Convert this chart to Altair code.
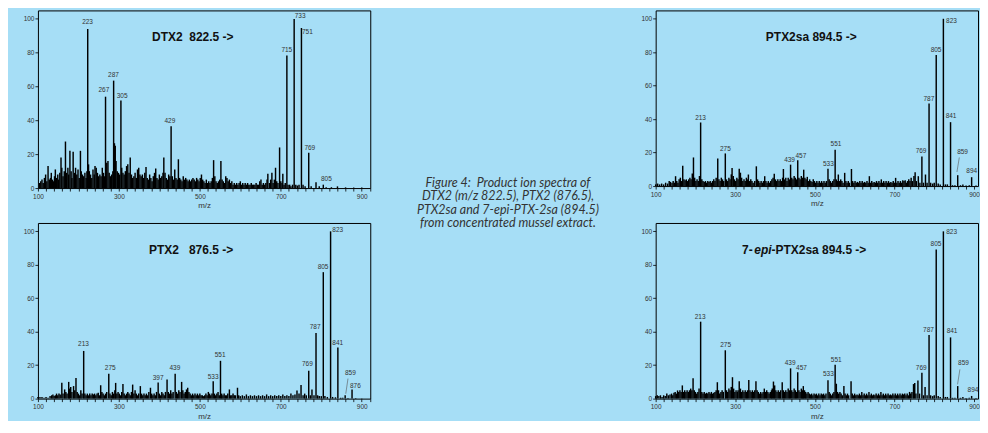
import altair as alt
import pandas as pd

BG = "#a6def6"
FONT = "Liberation Sans"
TXT = "#333333"

# ---------------- data (m/z, relative intensity %) ----------------
DTX2_PEAKS = [
    (104, 3), (107, 4), (110, 5), (113, 3), (116, 6), (119, 8), (122, 4), (125, 13), (128, 5), (131, 6),
    (133, 9), (136, 5), (139, 4), (141, 7), (143, 11), (146, 6), (149, 8), (151, 5), (154, 9), (157, 18),
    (159, 12), (162, 7), (165, 10), (168, 27.5), (171, 9), (174, 12), (176, 8), (179, 22), (182, 10), (184, 6),
    (187, 21.5), (190, 9), (193, 12), (196, 8), (199, 11), (202, 6), (205, 22), (207, 10), (210, 8), (213, 7),
    (216, 9), (219, 6), (221, 10), (223, 94), (225, 14), (227, 10), (230, 8), (233, 6), (236, 11), (239, 8),
    (241, 13), (244, 12), (247, 9), (250, 7), (253, 8), (256, 7), (259, 12), (262, 9), (265, 7), (267, 54),
    (270, 15), (273, 16), (276, 9), (279, 7), (282, 8), (285, 10), (287, 63.5), (289, 26.5), (291, 25), (293, 16),
    (296, 10), (299, 9), (302, 8), (305, 51.8), (307, 12), (310, 9), (313, 8), (316, 10), (319, 13), (322, 14),
    (325, 9), (328, 18), (331, 8), (334, 6), (337, 7), (340, 9), (343, 6), (346, 11), (349, 12), (352, 8),
    (355, 7), (358, 8), (361, 6), (364, 9), (367, 12.5), (370, 6), (373, 5), (376, 8), (379, 6), (382, 4),
    (385, 7), (388, 9), (391, 11.5), (394, 6), (397, 5), (400, 8), (403, 6), (406, 7), (409, 9), (411, 18),
    (414, 9), (417, 6), (420, 5), (423, 8), (426, 7), (429, 36.5), (432, 7), (435, 5), (438, 11), (441, 6),
    (444, 5), (447, 17), (450, 6), (453, 5), (456, 4), (459, 7), (462, 5), (465, 6), (468, 5), (471, 4),
    (474, 5), (477, 4), (480, 5), (483, 6), (486, 5), (489, 4), (492, 6), (495, 5), (498, 4), (501, 6),
    (504, 8), (507, 5), (510, 4), (513, 3), (516, 5), (519, 3), (522, 4), (525, 3), (528, 4), (531, 6),
    (534, 16.5), (537, 7), (540, 4), (543, 3), (546, 4), (549, 5), (552, 16), (555, 5), (558, 4), (561, 3),
    (564, 7), (567, 6), (570, 4), (573, 5), (576, 3), (579, 4), (582, 2), (585, 3), (588, 2), (591, 3),
    (594, 2), (597, 3), (600, 4), (603, 2), (606, 3), (609, 2), (612, 3), (615, 2), (618, 3), (621, 2),
    (624, 2), (627, 3), (630, 2), (633, 2), (636, 2), (639, 3), (642, 2), (645, 2), (648, 4), (651, 5),
    (654, 2), (657, 3), (660, 2), (663, 3), (666, 5), (668, 8.5), (672, 3), (675, 5), (678, 9), (681, 3),
    (684, 5), (687, 12), (690, 4), (693, 3), (697, 24), (700, 4), (703, 3), (705, 8.5), (708, 2), (711, 3),
    (715, 78.3), (718, 2), (722, 2), (725, 1), (729, 2), (733, 100), (737, 2), (741, 1.5), (745, 2), (751, 94.6),
    (755, 2), (760, 1), (769, 20.8), (775, 1), (787, 3.5), (795, 1), (805, 2), (812, 0.5), (825, 0.5), (840, 1),
    (860, 0.4), (880, 0.3), (900, 0.3),
]
DTX2_LABELS = [
    ("223", 222.5, 98.1), ("267", 263, 57.7), ("287", 286.7, 67), ("305", 308, 54.7), ("429", 426, 39.6),
    ("715", 714.8, 81.4), ("733", 747.7, 101.6), ("751", 765.7, 92), ("769", 771.6, 23.9), ("805", 812.6, 5.2),
]
DTX2_LEADERS = []

PTX2_PEAKS = [
    (100, 1), (105, 1), (110, 1), (115, 0.5), (120, 1), (125, 0.5), (130, 1.5), (134, 2), (137, 2.5), (140, 1.5),
    (143, 2), (146, 3), (149, 2), (152, 3), (155, 2.5), (159, 9.5), (162, 3), (166, 5.5), (169, 4), (172, 3),
    (176, 10), (178, 6), (181, 7), (184, 4), (188, 7.5), (191, 5), (194, 12.4), (197, 4), (200, 3), (203, 2),
    (206, 5), (209, 3), (213, 28.5), (216, 3), (219, 2), (222, 3), (225, 2), (228, 3), (231, 2), (234, 3),
    (237, 2.5), (240, 3), (243, 2), (246, 3), (249, 3.5), (252, 2), (255, 8), (258, 4), (261, 3), (264, 2),
    (267, 3), (270, 4), (275, 14.9), (278, 3), (281, 2), (284, 4), (287, 3), (290, 5), (292, 9.4), (295, 3),
    (298, 4), (301, 3), (304, 2), (307, 4), (310, 8.8), (313, 3), (316, 2), (319, 3), (322, 4), (325, 3),
    (328, 2), (331, 4), (334, 8.4), (337, 3), (340, 5), (343, 3), (346, 2), (349, 3), (353, 7.5), (356, 3),
    (359, 2), (362, 3), (365, 2), (368, 3), (371, 2), (374, 4), (378, 6.5), (381, 3), (384, 2), (387, 3),
    (390, 2), (393, 4), (397, 9.6), (400, 3), (403, 2), (406, 4), (409, 3), (412, 2), (415, 4), (419, 11.4),
    (422, 4), (425, 3), (428, 5), (431, 3), (434, 4), (439, 14.8), (442, 4), (445, 3), (448, 5), (451, 4),
    (455, 10), (458, 5), (461, 3), (464, 4), (467, 5.5), (470, 6.5), (473, 4), (476, 3), (479, 2), (482, 3),
    (485, 2), (488, 3), (491, 2), (494, 3), (497, 2), (500, 3), (503, 2), (506, 2), (509, 1.5), (512, 2),
    (515, 3), (518, 2), (521, 4), (524, 3), (527, 2), (530, 3), (533, 10.4), (536, 3), (539, 2), (542, 3),
    (545, 4), (548, 2), (551, 22.6), (554, 3), (557, 2), (560, 3), (563, 2), (566, 2), (569, 3), (573, 5.5),
    (576, 2), (579, 2), (582, 3), (585, 2), (588, 2), (593, 6.5), (596, 2), (600, 1.5), (605, 2), (610, 1.5),
    (615, 2.5), (620, 1.5), (625, 2), (630, 1.5), (635, 2), (640, 1.5), (645, 2), (650, 1.5), (655, 2), (660, 1.5),
    (665, 2.5), (670, 1.5), (675, 2), (680, 1.5), (685, 2), (690, 1.5), (695, 2), (700, 1.5), (705, 2.5), (710, 1.5),
    (715, 2), (720, 1.5), (725, 3), (730, 2), (735, 2.5), (740, 4.9), (745, 3), (750, 8.1), (755, 2), (759, 3),
    (763, 2), (769, 16.7), (773, 2), (777, 5.5), (782, 2), (787, 39.3), (791, 2), (795, 1.6), (800, 1.5), (805, 75.6),
    (809, 1.5), (815, 1), (823, 100), (828, 1), (835, 0.8), (841, 30.5), (848, 0.5), (853, 0.5), (859, 2), (866, 0.3),
    (876, 5.5), (885, 0.3), (900, 0.2),
]
PTX2_LABELS = [
    ("213", 212.6, 32.8), ("275", 278.5, 18.1), ("397", 397, 12.4), ("439", 438.3, 18.5), ("533", 532.8, 13),
    ("551", 550.1, 25.8), ("769", 765.7, 20.7), ("787", 784.7, 42.9), ("805", 804.4, 78.9), ("823", 840.7, 100.8),
    ("841", 840.7, 33.4), ("859", 871.8, 15.4), ("876", 884.2, 7.3),
]
PTX2_LEADERS = [(866, 12, 860.5, 2.9)]

PTX2SA_PEAKS = [
    (100, 1), (105, 1.5), (110, 1), (115, 1.5), (120, 1), (125, 2), (130, 1.5), (134, 3), (137, 2.5), (141, 2),
    (144, 3), (147, 2), (150, 5.9), (153, 3), (156, 2), (159, 4), (162, 5), (165, 3), (168, 12.2), (171, 4),
    (174, 3.5), (177, 4), (180, 3), (183, 4), (186, 5), (189, 4), (192, 7.5), (195, 17.1), (198, 5), (201, 3),
    (204, 4), (207, 3), (210, 6), (213, 38), (216, 4), (219, 3), (222, 2.5), (225, 3), (228, 2), (231, 3),
    (234, 2.5), (237, 3), (240, 2), (243, 3), (246, 4), (249, 3), (252, 5), (256, 16.5), (259, 4), (262, 3),
    (265, 5), (268, 4), (271, 3), (275, 19.5), (278, 4), (281, 3), (284, 5), (287, 4), (290, 7), (292, 10.8),
    (295, 6), (298, 4), (301, 3), (304, 5), (307, 4), (310, 10.4), (313, 8), (316, 5), (319, 3), (322, 4),
    (325, 3), (328, 5), (331, 4), (333, 6.9), (336, 3), (339, 4), (342, 3), (345, 2), (349, 3), (353, 11.8),
    (356, 4), (359, 3), (362, 2), (365, 3), (368, 2), (371, 3), (374, 5.9), (377, 3), (380, 2), (383, 3),
    (386, 2), (389, 3), (392, 4), (395, 5), (398, 7.3), (401, 4), (404, 3), (407, 4), (410, 3), (413, 4),
    (416, 3), (419, 5), (421, 10.2), (424, 4), (427, 5), (430, 3), (433, 5), (436, 4), (439, 12.8), (442, 5),
    (445, 4), (448, 6), (451, 5), (454, 4), (457, 15.4), (460, 5), (463, 4), (466, 6), (469, 5), (472, 9.8),
    (475, 5), (478, 4), (481, 5.5), (484, 3), (487, 4), (490, 3), (493, 2.5), (496, 4), (499, 3), (502, 2),
    (505, 3), (508, 2), (511, 3), (514, 2), (517, 3), (520, 2), (523, 3), (526, 2), (529, 3), (533, 10.4),
    (536, 4), (539, 3), (542, 2), (545, 3), (548, 4), (551, 21.7), (554, 4), (557, 3), (559, 6.9), (562, 3),
    (565, 4), (568, 3), (571, 2), (575, 7.9), (578, 3), (581, 2), (584, 3), (587, 2), (592, 10.2), (595, 3),
    (598, 2), (601, 3), (604, 2), (607, 2.5), (610, 2), (613, 3), (616, 2), (619, 3), (622, 2), (625, 2.5),
    (628, 2), (631, 3), (634, 2), (637, 5.9), (640, 2), (643, 3), (646, 2), (649, 2.5), (652, 2), (655, 3),
    (658, 2), (661, 3), (664, 2), (667, 4), (670, 2), (673, 3), (676, 2), (679, 3), (682, 2), (685, 3),
    (688, 2), (691, 2.5), (694, 2), (697, 3), (700, 2), (703, 4.9), (706, 2), (709, 3), (712, 2), (715, 3),
    (718, 2), (721, 3.5), (724, 3), (727, 3.5), (730, 2), (733, 3), (736, 4), (739, 3), (742, 5), (745, 3),
    (749, 6), (752, 8.3), (755, 3), (760, 5.9), (764, 2), (769, 17.7), (773, 2), (778, 6.9), (782, 2), (787, 49.4),
    (791, 2), (796, 1.5), (800, 2), (805, 78.4), (810, 1.5), (815, 1), (823, 100), (828, 1), (833, 1), (841, 38.2),
    (846, 0.5), (852, 0.5), (859, 6.5), (866, 0.5), (872, 1), (880, 0.4), (888, 0.5), (894, 5.3), (905, 0.3),
]
PTX2SA_LABELS = [
    ("213", 212.7, 40.9), ("275", 275.2, 22), ("439", 436.4, 15.5), ("457", 465, 17.7), ("533", 534, 13.2),
    ("551", 553, 25.2), ("769", 766.8, 21.1), ("787", 786.6, 52.2), ("805", 804.6, 81.3), ("823", 843.3, 98.8),
    ("841", 842.3, 42.1), ("859", 871.2, 20.3), ("894", 894.1, 9),
]
PTX2SA_LEADERS = [(863, 17.1, 857.1, 8.4)]

EPI_PEAKS = [
    (100, 1.5), (104, 2), (108, 1.5), (112, 2), (116, 1), (120, 2), (124, 1.5), (128, 3), (132, 2), (136, 2.5),
    (140, 3), (143, 2), (146, 3.5), (149, 4), (152, 3), (155, 4.9), (158, 4), (161, 5), (164, 4), (167, 7.9),
    (170, 4), (173, 5), (176, 4), (179, 5), (182, 4), (185, 5), (188, 6), (191, 5), (194, 12.2), (197, 5),
    (200, 4), (203, 3), (206, 4), (209, 6), (213, 46), (216, 4), (219, 3), (222, 4), (225, 3), (228, 3.5),
    (231, 3), (234, 4), (237, 3), (240, 4), (243, 3), (246, 3.5), (249, 4), (252, 5), (255, 9.8), (258, 5),
    (261, 3), (264, 4), (267, 5), (270, 4), (275, 28.9), (278, 5), (281, 4), (284, 6), (287, 5), (290, 7),
    (293, 12.8), (296, 6), (299, 4), (302, 5), (305, 4), (307, 5), (310, 10.4), (313, 6), (316, 4), (319, 5),
    (322, 4), (325, 5), (328, 4), (331, 5), (334, 11.2), (337, 5), (340, 4), (343, 5), (346, 4), (349, 5),
    (352, 10.4), (355, 5), (358, 4), (361, 3), (364, 4), (367, 3), (370, 4), (373, 6), (376, 4), (379, 5),
    (382, 4), (385, 3), (388, 4), (391, 5), (393, 6), (396, 10.2), (399, 7.9), (402, 5), (405, 4), (408, 5),
    (411, 4), (414, 5), (418, 9.8), (421, 5), (424, 4), (427, 5), (430, 4), (433, 6), (436, 5), (439, 18.1),
    (442, 5), (445, 4), (448, 6), (451, 5), (454, 4), (457, 15.7), (460, 5), (463, 4), (466, 6), (469, 5),
    (471, 7.5), (474, 5), (477, 4), (480, 3), (483, 4), (486, 3), (489, 2.5), (492, 3), (495, 2), (498, 3),
    (501, 2.5), (504, 3), (507, 2), (510, 3), (513, 2), (516, 3), (519, 2.5), (522, 3), (525, 2), (528, 3),
    (533, 11), (536, 4), (539, 3), (542, 2), (545, 3), (548, 4), (551, 20.3), (554, 8.9), (557, 4), (560, 3),
    (563, 4), (566, 3), (569, 2), (573, 7.5), (576, 3), (579, 2), (582, 3), (585, 2), (591, 10.4), (594, 3),
    (597, 2), (600, 3), (603, 2), (606, 2.5), (609, 2), (612, 3), (615, 2), (618, 4), (621, 2), (624, 3),
    (627, 2), (630, 3), (633, 2), (636, 4), (639, 2), (642, 3), (645, 2), (648, 2.5), (651, 2), (654, 3),
    (657, 2), (660, 3), (663, 2), (666, 4), (669, 2), (672, 3), (675, 2), (678, 3), (681, 2), (684, 3),
    (687, 2), (690, 2.5), (693, 2), (696, 3), (699, 2), (702, 3), (705, 2), (708, 3), (711, 2), (714, 3),
    (717, 2), (720, 3), (723, 2.5), (726, 3), (729, 2), (732, 3), (735, 2), (738, 4), (741, 3), (744, 4),
    (748, 8.7), (751, 9.3), (754, 3), (759, 10.8), (763, 3), (769, 15.4), (773, 2), (777, 6.9), (782, 2), (787, 38),
    (791, 2), (796, 1.5), (800, 2), (805, 89.2), (810, 1.5), (815, 1), (823, 100), (828, 1), (833, 1), (841, 36.6),
    (846, 0.5), (852, 0.5), (859, 7.5), (866, 0.5), (872, 1), (880, 0.4), (888, 0.5), (894, 1.6), (905, 0.3),
]
EPI_LABELS = [
    ("213", 211.7, 48.8), ("275", 275.8, 32.1), ("439", 437.8, 21.5), ("457", 466.5, 18.5), ("533", 534, 15),
    ("551", 553.8, 23.2), ("769", 767.4, 18.5), ("787", 785.6, 41.2), ("805", 804.4, 92.5), ("823", 843.8, 99.6),
    ("841", 844.7, 40.3), ("859", 873.4, 21.1), ("894", 897.3, 4.9),
]
EPI_LEADERS = [(864.5, 17.5, 858.6, 8.5)]

X_LABELS = [100, 300, 500, 700, 900]
X_MINOR_TICKS = list(range(100, 921, 20))
Y_TICKS = [0, 20, 40, 60, 80, 100]
X_DOMAIN_LEFT = [100, 921]
X_DOMAIN_RIGHT = [100, 910]
Y_DOMAIN = [0, 105]

CAPTION = [
    "Figure 4:\u00a0 Product ion spectra of",
    "DTX2 (m/z 822.5), PTX2 (876.5),",
    "PTX2sa and 7-epi-PTX-2sa (894.5)",
    "from concentrated mussel extract.",
]

# ---------------- chart building ----------------
label_expr = "indexof(" + str(X_LABELS) + ", datum.value) >= 0 ? datum.label : ''"


def make_x_axis(domain):
    return alt.Axis(
        values=[t for t in X_MINOR_TICKS if t <= domain[1]], labelExpr=label_expr, title="m/z",
        grid=False, domain=False,
        tickSize=3, tickColor="#000", tickWidth=0.8, labelFontSize=6.5, labelColor=TXT, labelFont=FONT,
        labelPadding=2, labelOverlap=False, labelFlush=False,
        titleFontSize=8, titleFontWeight="normal", titleColor=TXT, titleFont=FONT, titlePadding=2,
    )


y_axis = alt.Axis(
    values=Y_TICKS, title=None, grid=False, domain=False,
    tickSize=3, tickColor="#000", tickWidth=0.8, labelFontSize=6.5, labelColor=TXT, labelFont=FONT,
    labelPadding=1,
)


def panel(peaks, labels, leaders, title_parts, width, height, xdom):
    xs = alt.Scale(domain=xdom, nice=False, zero=False)
    ys = alt.Scale(domain=Y_DOMAIN, nice=False, zero=False)
    x_axis = make_x_axis(xdom)
    X = lambda f: alt.X(f, type="quantitative", scale=xs, axis=x_axis)
    Y = lambda f: alt.Y(f, type="quantitative", scale=ys, axis=y_axis)

    dfp = pd.DataFrame(peaks, columns=["mz", "inten"])
    dfp["base"] = 0
    rules = alt.Chart(dfp).mark_rule(color="#000", strokeWidth=1.45).encode(
        x=X("mz"), y=Y("inten"), y2=alt.Y2("base")
    )
    dfl = pd.DataFrame(labels, columns=["t", "mz", "inten"])
    texts = alt.Chart(dfl).mark_text(
        fontSize=6.5, font=FONT, color=TXT, align="center", baseline="middle"
    ).encode(x=X("mz"), y=Y("inten"), text="t:N")
    layers = [rules, texts]
    if leaders:
        dfr = pd.DataFrame(leaders, columns=["mz", "inten", "mz2", "inten2"])
        layers.append(
            alt.Chart(dfr).mark_rule(color="#555", strokeWidth=0.6).encode(
                x=X("mz"), y=Y("inten"), x2=alt.X2("mz2"), y2=alt.Y2("inten2")
            )
        )
    one = pd.DataFrame({"k": [0]})
    for txt, px, italic in title_parts:
        layers.append(
            alt.Chart(one).mark_text(
                fontSize=12, fontWeight="bold", font=FONT, color="#111",
                fontStyle="italic" if italic else "normal",
                align="left", baseline="middle",
            ).encode(x=alt.value(px), y=alt.value(27), text=alt.value(txt))
        )
    return alt.layer(*layers).properties(
        width=width, height=height,
        view=alt.ViewBackground(stroke="#000", strokeWidth=1, fill=BG),
    )


p1 = panel(DTX2_PEAKS, DTX2_LABELS, DTX2_LEADERS, [("DTX2\u00a0\u00a0822.5 ->", 114.3, False)],
           333, 178, X_DOMAIN_LEFT)
p2 = panel(PTX2_PEAKS, PTX2_LABELS, PTX2_LEADERS, [("PTX2\u00a0\u00a0\u00a0876.5 ->", 111.3, False)],
           333, 176, X_DOMAIN_LEFT)
p3 = panel(PTX2SA_PEAKS, PTX2SA_LABELS, PTX2SA_LEADERS, [("PTX2sa 894.5 ->", 110.4, False)],
           323, 176, X_DOMAIN_RIGHT)
p4 = panel(EPI_PEAKS, EPI_LABELS, EPI_LEADERS,
           [("7-", 86.6, False), ("epi", 98.8, True), ("-PTX2sa 894.5 ->", 116.1, False)],
           323, 176, X_DOMAIN_RIGHT)

caption = alt.Chart(pd.DataFrame({"k": [0]})).mark_text(
    font="Lato", fontStyle="italic", fontSize=12.5, color="#333", align="center",
    baseline="middle", lineHeight=13.4,
).encode(x=alt.value(137), y=alt.value(173), text=alt.value(CAPTION)).properties(
    width=269, height=200, view=alt.ViewBackground(strokeOpacity=0)
)

left = alt.vconcat(p1, p2, spacing=12)
right = alt.vconcat(p3, p4, spacing=14)

chart = alt.hconcat(left, caption, right, spacing=0).properties(
    background=BG,
    padding={"left": 14, "top": 1, "right": 0, "bottom": 0},
)

chart.save("out.html", embed_options={"renderer": "svg", "actions": False})
